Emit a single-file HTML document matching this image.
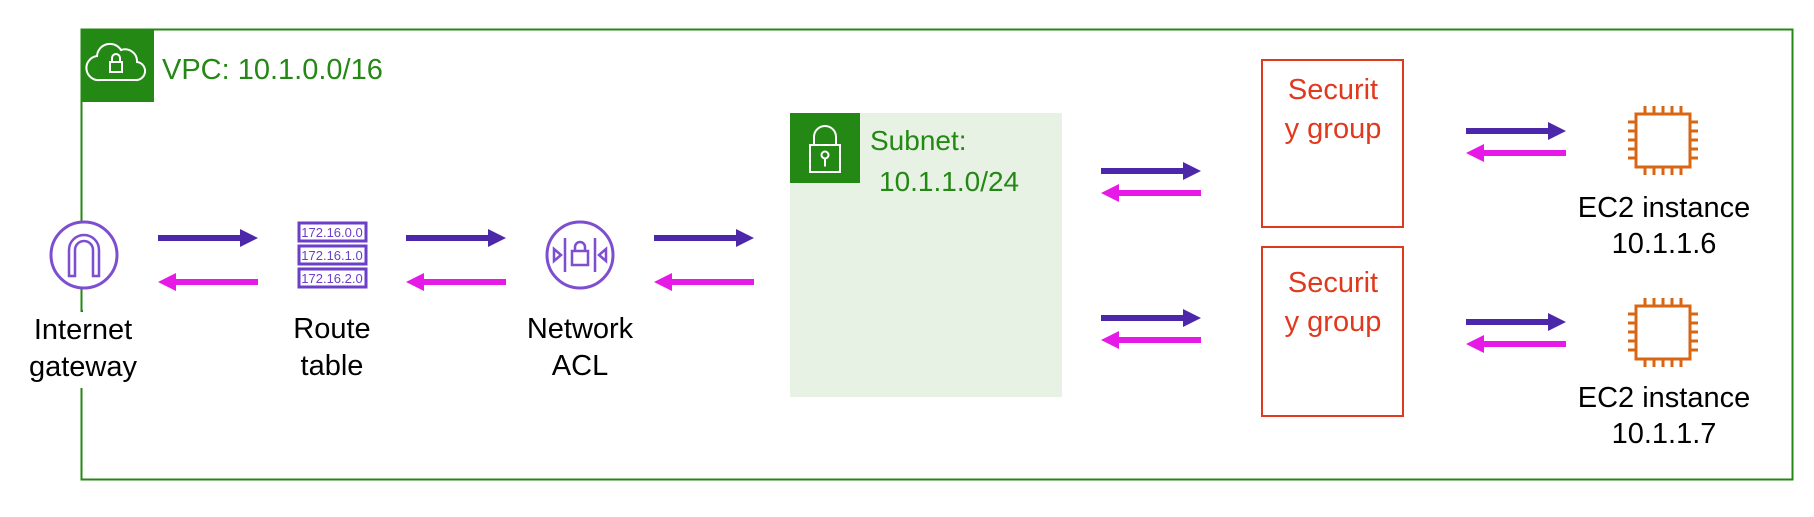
<!DOCTYPE html>
<html><head><meta charset="utf-8"><style>
html,body{margin:0;padding:0;background:#fff;}
svg{display:block}
text{font-family:"Liberation Sans",Arial,sans-serif;}
</style></head><body>
<svg width="1814" height="517" viewBox="0 0 1814 517" xmlns="http://www.w3.org/2000/svg">
<defs>
<g id="ar">
  <rect x="0" y="-3" width="84" height="6" fill="#4d27aa"/>
  <polygon points="82,-9 100,0 82,9" fill="#4d27aa"/>
  <rect x="16" y="41" width="84" height="6" fill="#e619e6"/>
  <polygon points="18,35 0,44 18,53" fill="#e619e6"/>
</g>
<g id="ar2">
  <rect x="0" y="-3" width="84" height="6" fill="#4d27aa"/>
  <polygon points="82,-9 100,0 82,9" fill="#4d27aa"/>
  <rect x="16" y="19" width="84" height="6" fill="#e619e6"/>
  <polygon points="18,13 0,22 18,31" fill="#e619e6"/>
</g>
<g id="chip" fill="none" stroke="#d86613" stroke-width="3">
  <rect x="-27" y="-26" width="54" height="53"/>
  <path d="M-18,-26v-8M-9,-26v-8M0,-26v-8M9,-26v-8M18,-26v-8M-18,27v8M-9,27v8M0,27v8M9,27v8M18,27v8M-27,-18h-8M-27,-9h-8M-27,0h-8M-27,9h-8M-27,18h-8M27,-18h8M27,-9h8M27,0h8M27,9h8M27,18h8"/>
</g>
</defs>

<!-- VPC -->
<rect x="81.5" y="29.5" width="1711" height="450" fill="none" stroke="#248814" stroke-width="2"/>
<rect x="81" y="29" width="73" height="73" fill="#248814"/>
<g fill="none" stroke="#fff" stroke-width="2">
  <path d="M100,80 h35 a9,9 0 0 0 2,-18 a12,12 0 0 0 -16,-12 a13,13 0 0 0 -24,6 a12,12 0 0 0 3,24 z"/>
  <rect x="110" y="62" width="12" height="10"/>
  <path d="M112,62 v-4 a4,4 0 0 1 8,0 v4"/>
</g>
<text x="162" y="79" font-size="29" fill="#248814">VPC: 10.1.0.0/16</text>

<!-- Subnet -->
<rect x="790" y="113" width="272" height="284" fill="#e7f2e4"/>
<rect x="790" y="113" width="70" height="70" fill="#248814"/>
<g fill="none" stroke="#fff" stroke-width="2">
  <rect x="810" y="145" width="30" height="27"/>
  <path d="M814,145 v-8 a11,11 0 0 1 22,0 v8"/>
  <circle cx="825" cy="155" r="3.5"/>
  <path d="M825,158.5 v8"/>
</g>
<text x="870" y="150" font-size="28" fill="#248814">Subnet:</text>
<text x="879" y="191" font-size="28" fill="#248814">10.1.1.0/24</text>

<!-- Internet gateway -->
<circle cx="84" cy="255" r="33" fill="#fff" stroke="#7d4fd0" stroke-width="3"/>
<path d="M69,276 v-26 a15,15 0 0 1 30,0 v26 h-6 v-26 a9,9 0 0 0 -18,0 v26 z" fill="none" stroke="#7d4fd0" stroke-width="2.5"/>
<rect x="81" y="310" width="2" height="8" fill="#248814"/>
<rect x="22" y="312" width="124" height="76" fill="#fff"/>
<text x="83" y="339" font-size="29" text-anchor="middle">Internet</text>
<text x="83" y="376" font-size="29" text-anchor="middle">gateway</text>

<!-- Route table -->
<g fill="#fff" stroke="#6b3fc7" stroke-width="3">
  <rect x="299" y="223" width="67" height="18"/>
  <rect x="299" y="246" width="67" height="18"/>
  <rect x="299" y="269" width="67" height="18"/>
</g>
<g font-size="13" fill="#6b3fc7" text-anchor="middle">
  <text x="332" y="237">172.16.0.0</text>
  <text x="332" y="260">172.16.1.0</text>
  <text x="332" y="283">172.16.2.0</text>
</g>
<text x="332" y="338" font-size="29" text-anchor="middle">Route</text>
<text x="332" y="375" font-size="29" text-anchor="middle">table</text>

<!-- Network ACL -->
<circle cx="580" cy="255" r="33" fill="#fff" stroke="#7d4fd0" stroke-width="3"/>
<g fill="none" stroke="#7d4fd0" stroke-width="2.5">
  <path d="M565,238 v34 M595,238 v34"/>
  <rect x="572" y="251" width="16" height="14"/>
  <path d="M575,251 v-4 a5,5 0 0 1 10,0 v4"/>
  <polygon points="554,249 561,255 554,261"/>
  <polygon points="606,249 599,255 606,261"/>
</g>
<text x="580" y="338" font-size="29" text-anchor="middle">Network</text>
<text x="580" y="375" font-size="29" text-anchor="middle">ACL</text>

<!-- Arrows -->
<use href="#ar" x="158" y="238"/>
<use href="#ar" x="406" y="238"/>
<use href="#ar" x="654" y="238"/>
<use href="#ar2" x="1101" y="171"/>
<use href="#ar2" x="1101" y="318"/>
<use href="#ar2" x="1466" y="131"/>
<use href="#ar2" x="1466" y="322"/>

<!-- Security groups -->
<rect x="1262" y="60" width="141" height="167" fill="none" stroke="#e0391e" stroke-width="2"/>
<rect x="1262" y="247" width="141" height="169" fill="none" stroke="#e0391e" stroke-width="2"/>
<g font-size="29" fill="#e0391e" text-anchor="middle">
  <text x="1333" y="99">Securit</text>
  <text x="1333" y="138">y group</text>
  <text x="1333" y="292">Securit</text>
  <text x="1333" y="331">y group</text>
</g>

<!-- EC2 -->
<use href="#chip" x="1663" y="140"/>
<use href="#chip" x="1663" y="332"/>
<g font-size="29" text-anchor="middle">
  <text x="1664" y="217">EC2 instance</text>
  <text x="1664" y="253">10.1.1.6</text>
  <text x="1664" y="407">EC2 instance</text>
  <text x="1664" y="443">10.1.1.7</text>
</g>
</svg>
</body></html>
